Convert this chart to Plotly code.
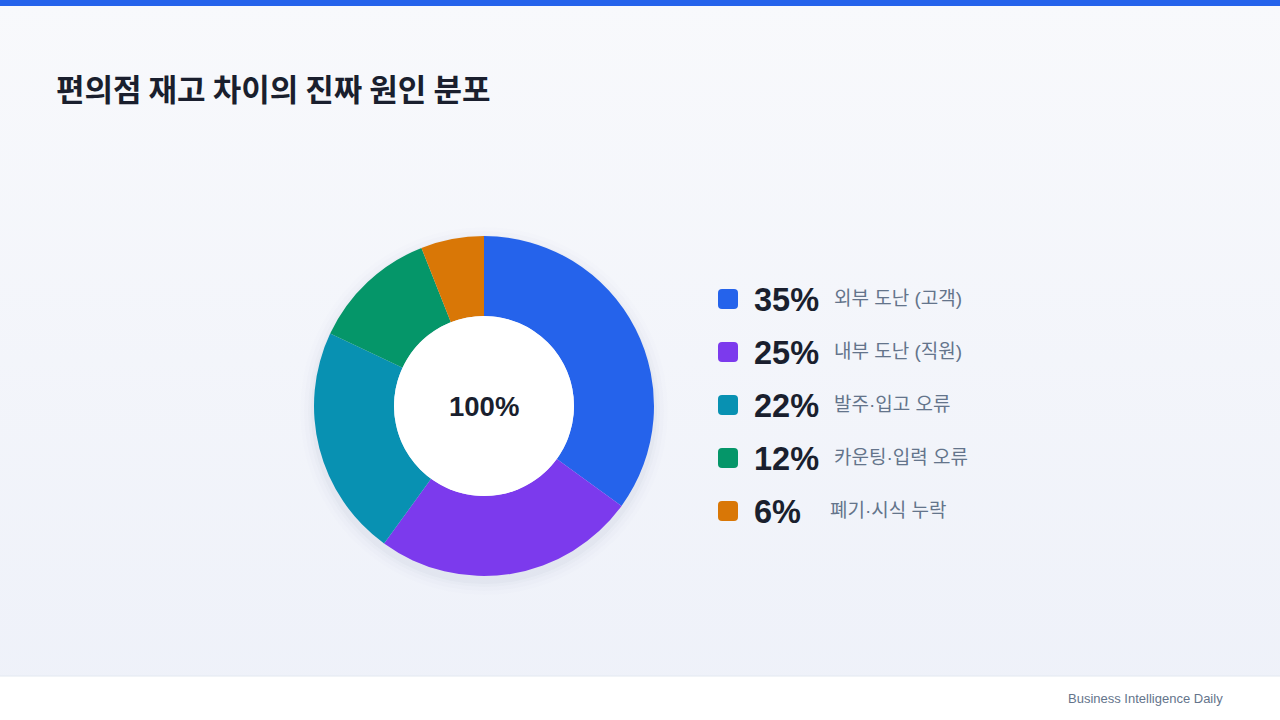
import plotly.graph_objects as go

categories = ["외부 도난 (고객)", "내부 도난 (직원)", "발주·입고 오류", "카운팅·입력 오류", "폐기·시식 누락"]
values = [35, 25, 22, 12, 6]
colors = ["#2563EB", "#7C3AED", "#0891B2", "#059669", "#D97706"]
title_text = "편의점 재고 차이의 진짜 원인 분포"
center_text = "100%"
footer_text = "Business Intelligence Daily"

W, H = 1280, 720
cx, cy, R, r_in = 484, 406, 170, 90

def px(x):
    return x / W

def py(y):
    return 1 - y / H

def rounded_rect(x0, y0, x1, y1, r):
    pts = [
        f"M {px(x0 + r)},{py(y0)}",
        f"L {px(x1 - r)},{py(y0)}",
        f"Q {px(x1)},{py(y0)} {px(x1)},{py(y0 + r)}",
        f"L {px(x1)},{py(y1 - r)}",
        f"Q {px(x1)},{py(y1)} {px(x1 - r)},{py(y1)}",
        f"L {px(x0 + r)},{py(y1)}",
        f"Q {px(x0)},{py(y1)} {px(x0)},{py(y1 - r)}",
        f"L {px(x0)},{py(y0 + r)}",
        f"Q {px(x0)},{py(y0)} {px(x0 + r)},{py(y0)}",
        "Z",
    ]
    return " ".join(pts)

def circle_domain(x, y, rr):
    return dict(x=[px(x - rr), px(x + rr)], y=[py(y + rr), py(y - rr)])

fig = go.Figure()

# background gradient
fig.add_trace(go.Scatter(
    x=[0, 1, 1, 0, 0], y=[0, 0, 1, 1, 0], mode="lines", fill="toself",
    line=dict(width=0), hoverinfo="skip", showlegend=False,
    fillgradient=dict(type="vertical", colorscale=[[0, "#EEF1F9"], [1, "#F8F9FC"]]),
    xaxis="x", yaxis="y",
))

# soft shadow rings behind donut
for extra, op in [(14, 0.008), (10, 0.012), (6, 0.016), (3, 0.022)]:
    fig.add_trace(go.Pie(
        values=[1], sort=False, marker=dict(colors=[f"rgba(30,41,80,{op})"], line=dict(width=0)),
        textinfo="none", hoverinfo="skip", showlegend=False,
        domain=circle_domain(cx, cy + 5, R + extra),
    ))

fig.add_trace(go.Pie(
    labels=categories, values=values, sort=False, direction="clockwise", rotation=0,
    hole=r_in / R, marker=dict(colors=colors, line=dict(width=0)),
    textinfo="none", hoverinfo="label+percent", showlegend=False,
    domain=circle_domain(cx, cy, R),
))

# white center disc
fig.add_trace(go.Pie(
    values=[1], sort=False, marker=dict(colors=["#FFFFFF"], line=dict(width=0)),
    textinfo="none", hoverinfo="skip", showlegend=False,
    domain=circle_domain(cx, cy, r_in),
))

shapes = []
# top bar
shapes.append(dict(type="rect", xref="paper", yref="paper", layer="above",
                   x0=0, x1=1, y0=py(6), y1=1, fillcolor="#2563EB", line=dict(width=0)))
# footer
shapes.append(dict(type="rect", xref="paper", yref="paper", layer="above",
                   x0=0, x1=1, y0=0, y1=py(676), fillcolor="#FFFFFF", line=dict(width=0)))
shapes.append(dict(type="line", xref="paper", yref="paper", layer="above",
                   x0=0, x1=1, y0=py(676), y1=py(676), line=dict(color="#E2E8F0", width=1)))

annotations = [
    dict(text=f"<b>{title_text}</b>", x=px(54), y=py(87), xref="paper", yref="paper",
         xanchor="left", yanchor="middle", showarrow=False,
         font=dict(family="Noto Sans CJK KR", size=31, color="#1A1F2E")),
    dict(text=f"<b>{center_text}</b>", x=px(cx), y=py(cy), xref="paper", yref="paper",
         xanchor="center", yanchor="middle", showarrow=False,
         font=dict(family="Liberation Sans, Arial", size=27.5, color="#1A1F2E")),
    dict(text=footer_text, x=px(1225), y=py(698), xref="paper", yref="paper",
         xanchor="right", yanchor="middle", showarrow=False,
         font=dict(family="Liberation Sans, Arial", size=13, color="#64748B")),
]

row_y0, row_step = 299, 53
for i, (cat, val, col) in enumerate(zip(categories, values, colors)):
    yy = row_y0 + i * row_step
    shapes.append(dict(type="path", xref="paper", yref="paper", layer="above",
                       path=rounded_rect(718, yy - 10, 738, yy + 10, 4),
                       fillcolor=col, line=dict(width=0)))
    annotations.append(dict(text=f"<b>{val}%</b>", x=px(752), y=py(yy + 1), xref="paper", yref="paper",
                            xanchor="left", yanchor="middle", showarrow=False,
                            font=dict(family="Liberation Sans, Arial", size=32.5, color="#1A1F2E")))
    lx = 832 if val >= 10 else 828
    annotations.append(dict(text=cat, x=px(lx), y=py(yy - 1), xref="paper", yref="paper",
                            xanchor="left", yanchor="middle", showarrow=False,
                            font=dict(family="Liberation Sans, Noto Sans CJK KR", size=19, color="#64748B")))

fig.update_layout(
    width=W, height=H, margin=dict(l=0, r=0, t=0, b=0),
    paper_bgcolor="#F4F6FB", plot_bgcolor="rgba(0,0,0,0)",
    xaxis=dict(visible=False, range=[0, 1], domain=[0, 1], fixedrange=True),
    yaxis=dict(visible=False, range=[0, 1], domain=[0, 1], fixedrange=True),
    shapes=shapes, annotations=annotations, showlegend=False,
)

fig.write_html("out.html", config={"displayModeBar": False},
               post_script="document.body.style.margin='0';document.body.style.overflow='hidden';")
